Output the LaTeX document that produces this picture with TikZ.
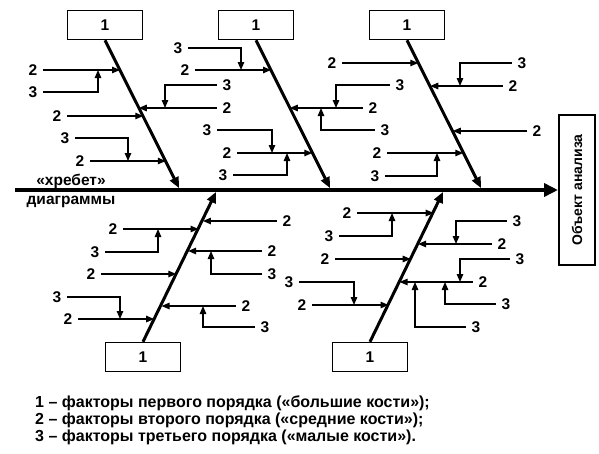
\documentclass[tikz,border=0pt]{standalone}
\usepackage{fontspec}
\setmainfont{Liberation Sans}
\usetikzlibrary{arrows.meta,calc}

\begin{document}
\begin{tikzpicture}[x=1pt,y=-1pt,
	num/.style={font=\bfseries\fontsize{15.5}{17}\selectfont,inner xsep=5.5pt,inner ysep=0pt},
	txt/.style={font=\bfseries\fontsize{15.5}{17}\selectfont,inner sep=0pt},
	arr/.style={line width=1.3pt,-{Triangle[length=8pt,width=6.5pt]}},
	bone/.style={line width=3pt,-{Triangle[length=11pt,width=9pt]},shorten >=2pt},
	spine/.style={line width=4pt,-{Triangle[length=14pt,width=13pt]}},
	bigbox/.style={draw,line width=1.5pt,minimum width=75pt,minimum height=29pt,font=\bfseries\fontsize{15.5}{17}\selectfont}]
	
	\useasboundingbox
	(0,0) rectangle (599,453);
	
	\node[draw,line width=2pt,rotate=90,minimum width=150pt,minimum height=36pt,font=\bfseries\fontsize{14}{16}\selectfont]
	(obj) at (577,190) {Объект анализа};
	
	\coordinate (s0) at (15,190);
	
	\draw[spine]
	(s0) -- (obj);
	
	\node[txt] (xr) at (71,181) {«хребет»};
	\node[txt] (dg) at (71,202) {диаграммы};
	
	\node[bigbox] (k1) at (105,25) {1};
	\node[bigbox] (k2) at (256,25) {1};
	\node[bigbox] (k3) at (407,25) {1};
	\node[bigbox] (k4) at (143,357) {1};
	\node[bigbox] (k5) at (370,357) {1};
	
	\coordinate (end1) at (180,190);
	\coordinate (end2) at (331,190);
	\coordinate (end3) at (482,190);
	\coordinate (end4) at (217,190);
	\coordinate (end5) at (444,190);
	
	\draw[bone]
	(k1.south) -- (end1);
	\draw[bone]
	(k2.south) -- (end2);
	\draw[bone]
	(k3.south) -- (end3);
	\draw[bone]
	(k4.north) -- (end4);
	\draw[bone]
	(k5.north) -- (end5);
	
	\coordinate (p1a) at ($(k1.south)!.2!(end1)$);
	\coordinate (p1b) at ($(k1.south)!.45!(end1)$);
	\coordinate (p1c) at ($(k1.south)!.51!(end1)$);
	\coordinate (p1d) at ($(k1.south)!.81!(end1)$);
	
	\node[num] (a1) at (33,70) {2};
	\node[num] (b1) at (227,108) {2};
	\node[num] (c1) at (57,116) {2};
	\node[num] (d1) at (80,161) {2};
	\node[num] (t1a) at (33,92) {3};
	\node[num] (t1b) at (227,85) {3};
	\node[num] (t1c) at (65,138) {3};
	
	\coordinate (j1a) at (98,70);
	\coordinate (j1b) at (165,108);
	\coordinate (j1c) at (128,161);
	
	\draw[arr]
	(a1.east) -- (a1.east -| p1a);
	\draw[arr]
	(b1.west) -- (b1.west -| p1b);
	\draw[arr]
	(c1.east) -- (c1.east -| p1c);
	\draw[arr]
	(d1.east) -- (d1.east -| p1d);
	\draw[arr]
	(t1a.east) -| (j1a);
	\draw[arr]
	(t1b.west) -| (j1b);
	\draw[arr]
	(t1c.east) -| (j1c);
	
	\coordinate (p2a) at ($(k2.south)!.2!(end2)$);
	\coordinate (p2b) at ($(k2.south)!.45!(end2)$);
	\coordinate (p2c) at ($(k2.south)!.75!(end2)$);
	
	\node[num] (a2) at (185,70) {2};
	\node[num] (b2) at (373,108) {2};
	\node[num] (c2) at (227,153) {2};
	\node[num] (t2a) at (178,48) {3};
	\node[num] (t2b) at (400,85) {3};
	\node[num] (t2c) at (385,130) {3};
	\node[num] (t2d) at (207,130) {3};
	\node[num] (t2e) at (223,175) {3};
	
	\coordinate (j2a) at (241,70);
	\coordinate (j2b) at (336,108);
	\coordinate (j2c) at (321,108);
	\coordinate (j2d) at (272,153);
	\coordinate (j2e) at (287,153);
	
	\draw[arr]
	(a2.east) -- (a2.east -| p2a);
	\draw[arr]
	(b2.west) -- (b2.west -| p2b);
	\draw[arr]
	(c2.east) -- (c2.east -| p2c);
	\draw[arr]
	(t2a.east) -| (j2a);
	\draw[arr]
	(t2b.west) -| (j2b);
	\draw[arr]
	(t2c.west) -| (j2c);
	\draw[arr]
	(t2d.east) -| (j2d);
	\draw[arr]
	(t2e.east) -| (j2e);
	
	\coordinate (p3a) at ($(k3.south)!.15!(end3)$);
	\coordinate (p3b) at ($(k3.south)!.31!(end3)$);
	\coordinate (p3c) at ($(k3.south)!.61!(end3)$);
	\coordinate (p3d) at ($(k3.south)!.75!(end3)$);
	
	\node[num] (a3) at (332,63) {2};
	\node[num] (b3) at (513,86) {2};
	\node[num] (c3) at (537,131) {2};
	\node[num] (d3) at (377,153) {2};
	\node[num] (t3a) at (522,63) {3};
	\node[num] (t3b) at (375,176) {3};
	
	\coordinate (j3a) at (460,86);
	\coordinate (j3b) at (437,153);
	
	\draw[arr]
	(a3.east) -- (a3.east -| p3a);
	\draw[arr]
	(b3.west) -- (b3.west -| p3b);
	\draw[arr]
	(c3.west) -- (c3.west -| p3c);
	\draw[arr]
	(d3.east) -- (d3.east -| p3d);
	\draw[arr]
	(t3a.west) -| (j3a);
	\draw[arr]
	(t3b.east) -| (j3b);
	
	\coordinate (p4a) at ($(k4.north)!.81!(end4)$);
	\coordinate (p4b) at ($(k4.north)!.75!(end4)$);
	\coordinate (p4c) at ($(k4.north)!.61!(end4)$);
	\coordinate (p4d) at ($(k4.north)!.45!(end4)$);
	\coordinate (p4e) at ($(k4.north)!.25!(end4)$);
	\coordinate (p4f) at ($(k4.north)!.15!(end4)$);
	
	\node[num] (a4) at (287,221) {2};
	\node[num] (b4) at (113,229) {2};
	\node[num] (c4) at (272,251) {2};
	\node[num] (d4) at (91,274) {2};
	\node[num] (e4) at (246,306) {2};
	\node[num] (f4) at (68,319) {2};
	\node[num] (t4a) at (95,252) {3};
	\node[num] (t4b) at (272,274) {3};
	\node[num] (t4c) at (265,327) {3};
	\node[num] (t4d) at (57,297) {3};
	
	\coordinate (j4a) at (158,229);
	\coordinate (j4b) at (211,251);
	\coordinate (j4c) at (203,306);
	\coordinate (j4d) at (120,319);
	
	\draw[arr]
	(a4.west) -- (a4.west -| p4a);
	\draw[arr]
	(b4.east) -- (b4.east -| p4b);
	\draw[arr]
	(c4.west) -- (c4.west -| p4c);
	\draw[arr]
	(d4.east) -- (d4.east -| p4d);
	\draw[arr]
	(e4.west) -- (e4.west -| p4e);
	\draw[arr]
	(f4.east) -- (f4.east -| p4f);
	\draw[arr]
	(t4a.east) -| (j4a);
	\draw[arr]
	(t4b.west) -| (j4b);
	\draw[arr]
	(t4c.west) -| (j4c);
	\draw[arr]
	(t4d.east) -| (j4d);
	
	\coordinate (p5a) at ($(k5.north)!.86!(end5)$);
	\coordinate (p5b) at ($(k5.north)!.65!(end5)$);
	\coordinate (p5c) at ($(k5.north)!.55!(end5)$);
	\coordinate (p5d) at ($(k5.north)!.4!(end5)$);
	\coordinate (p5e) at ($(k5.north)!.25!(end5)$);
	
	\node[num] (a5) at (347,213) {2};
	\node[num] (b5) at (502,244) {2};
	\node[num] (c5) at (325,259) {2};
	\node[num] (d5) at (483,282) {2};
	\node[num] (e5) at (302,305) {2};
	\node[num] (t5a) at (329,236) {3};
	\node[num] (t5b) at (517,221) {3};
	\node[num] (t5c) at (520,259) {3};
	\node[num] (t5d) at (506,304) {3};
	\node[num] (t5e) at (476,327) {3};
	\node[num] (t5f) at (289,282) {3};
	
	\coordinate (j5a) at (392,213);
	\coordinate (j5b) at (456,244);
	\coordinate (j5c) at (460,282);
	\coordinate (j5d) at (445,282);
	\coordinate (j5e) at (415,282);
	\coordinate (j5f) at (354,305);
	
	\draw[arr]
	(a5.east) -- (a5.east -| p5a);
	\draw[arr]
	(b5.west) -- (b5.west -| p5b);
	\draw[arr]
	(c5.east) -- (c5.east -| p5c);
	\draw[arr]
	(d5.west) -- (d5.west -| p5d);
	\draw[arr]
	(e5.east) -- (e5.east -| p5e);
	\draw[arr]
	(t5a.east) -| (j5a);
	\draw[arr]
	(t5b.west) -| (j5b);
	\draw[arr]
	(t5c.west) -| (j5c);
	\draw[arr]
	(t5d.west) -| (j5d);
	\draw[arr]
	(t5e.west) -| (j5e);
	\draw[arr]
	(t5f.east) -| (j5f);
	
	\node[txt,anchor=west,font=\bfseries\fontsize{16}{17}\selectfont] (leg1) at (35,403) {1 – факторы первого порядка («большие кости»);};
	\node[txt,anchor=west,font=\bfseries\fontsize{16}{17}\selectfont] (leg2) at (35,420) {2 – факторы второго порядка («средние кости»);};
	\node[txt,anchor=west,font=\bfseries\fontsize{16}{17}\selectfont] (leg3) at (35,437) {3 – факторы третьего порядка («малые кости»).};
	
\end{tikzpicture}
\end{document}
